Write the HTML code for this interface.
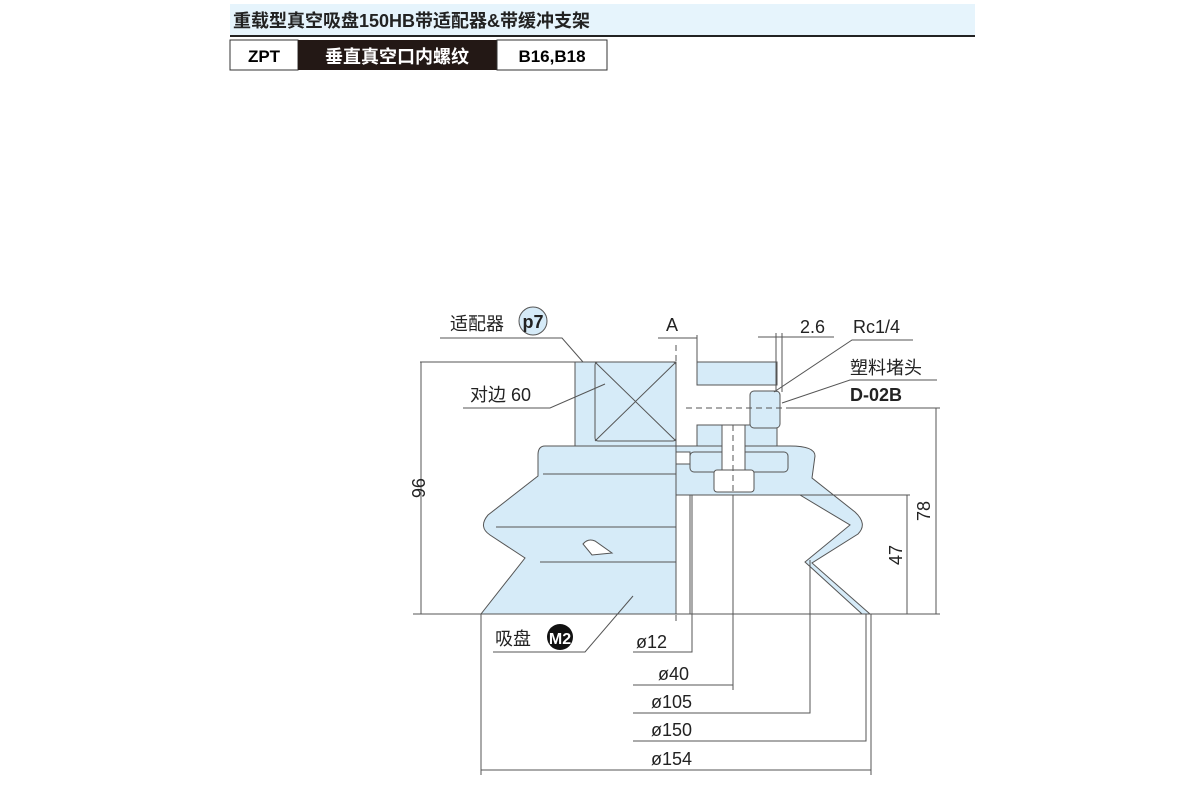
<!DOCTYPE html>
<html><head><meta charset="utf-8"><style>
body{margin:0;width:1200px;height:800px;background:#fff;overflow:hidden;font-family:"Liberation Sans","Noto Sans CJK SC",sans-serif}
</style></head><body>
<svg width="1200" height="800" viewBox="0 0 1200 800" xmlns="http://www.w3.org/2000/svg" font-family="Liberation Sans, Noto Sans CJK SC, sans-serif">
<rect x="230" y="4" width="745" height="31" fill="#e6f4fc"/>
<line x1="230" y1="36" x2="975" y2="36" stroke="#222" stroke-width="2"/>
<text x="233" y="27" font-size="18" font-weight="bold" fill="#222">重载型真空吸盘150HB带适配器&amp;带缓冲支架</text>
<rect x="230" y="40" width="68" height="30" fill="#fff" stroke="#333"/>
<text x="264" y="62" font-size="17" font-weight="bold" text-anchor="middle">ZPT</text>
<rect x="298" y="40" width="199" height="30" fill="#231815"/>
<text x="397" y="63" font-size="18" font-weight="bold" fill="#fff" text-anchor="middle">垂直真空口内螺纹</text>
<rect x="497" y="40" width="110" height="30" fill="#fff" stroke="#333"/>
<text x="552" y="62" font-size="17" font-weight="bold" text-anchor="middle">B16,B18</text>

<g stroke="#555" stroke-width="1" fill="#d6ebf8">
<rect x="575" y="362" width="101" height="84"/>
<rect x="595" y="362" width="81" height="79" rx="3"/>
<path d="M595 362 L676 441 M676 362 L595 441" fill="none"/>
<path d="M676 446 L545 446 Q538 446 538 455 L538 476 L488 515 Q478 527 490 535 L525 558 L481 614 L676 614 Z"/>
<path d="M543 474 H676 M496 527 H676 M540 562 H676" fill="none"/>
<path d="M583 544 Q588 538 595 541 L612 553 L592 555 Z" fill="#fff"/>
<rect x="697" y="362" width="80" height="23"/>
<rect x="697" y="425" width="80" height="21"/>
<rect x="750" y="391" width="30" height="37" rx="4"/>
<path d="M676 446 H790 Q815 446 815 456 L812 478 L855 512 Q868 524 858 534 L812 563 L870 614 L862 614 L805 562 L850 525 L800 495 L676 495 Z"/>
<rect x="690" y="452" width="98" height="20" rx="4"/>
<rect x="722" y="425" width="23" height="50" fill="#fff"/>
<rect x="714" y="470" width="40" height="22" rx="3" fill="#fff"/>
<rect x="676" y="452" width="14" height="12" fill="#fff"/>
</g>
<g stroke="#555" stroke-width="1" fill="none">
<line x1="676" y1="345" x2="676" y2="625" stroke-dasharray="6,4"/>
<line x1="686" y1="408" x2="790" y2="408" stroke-dasharray="6,4"/>
<line x1="733" y1="425" x2="733" y2="495" stroke-dasharray="6,4"/>
<line x1="733" y1="495" x2="733" y2="690"/>
<line x1="697" y1="335" x2="697" y2="362"/>
<line x1="658" y1="338" x2="697" y2="338"/>
<line x1="420" y1="362" x2="575" y2="362"/>
<line x1="421" y1="362" x2="421" y2="614"/>
<line x1="413" y1="614" x2="940" y2="614"/>
<line x1="676" y1="495" x2="910" y2="495"/>
<line x1="907" y1="495" x2="907" y2="614"/>
<line x1="790" y1="408" x2="940" y2="408"/>
<line x1="936" y1="408" x2="936" y2="614"/>
<line x1="758" y1="337" x2="834" y2="337"/>
<line x1="776" y1="333" x2="776" y2="392"/>
<line x1="782" y1="333" x2="782" y2="392"/>
<path d="M774 392 L852 340 H913"/>
<path d="M782 403 L850 380 H937"/>
<path d="M440 338 H562 L583 362"/>
<path d="M463 408 H550 L605 384"/>
<path d="M633 596 L585 652 H493"/>
<path d="M633 652 H692 V495"/>
<path d="M633 685 H733"/>
<path d="M633 713 H810 V560"/>
<path d="M633 741 H866 V614"/>
<path d="M481 770 H871"/>
<line x1="481" y1="614" x2="481" y2="775"/>
<line x1="871" y1="614" x2="871" y2="775"/>
<line x1="690" y1="495" x2="690" y2="614"/>
</g>
<g font-size="18" fill="#222">
<text x="450" y="330">适配器</text>
<circle cx="533" cy="321" r="14" fill="#d6ebf8" stroke="#555"/>
<text x="533" y="328" font-weight="bold" text-anchor="middle" font-size="18">p7</text>
<text x="470" y="401">对边 60</text>
<text x="672" y="331" text-anchor="middle">A</text>
<text x="800" y="333">2.6</text>
<text x="853" y="333">Rc1/4</text>
<text x="850" y="374">塑料堵头</text>
<text x="850" y="401" font-weight="bold">D-02B</text>
<text transform="translate(412,488) rotate(90)" text-anchor="middle">96</text>
<text transform="translate(930,511) rotate(-90)" text-anchor="middle">78</text>
<text transform="translate(902,555) rotate(-90)" text-anchor="middle">47</text>
<text x="495" y="645">吸盘</text>
<circle cx="560" cy="637" r="13" fill="#111"/>
<text x="560" y="644" fill="#fff" font-weight="bold" text-anchor="middle" font-size="16">M2</text>
<text x="636" y="648">ø12</text>
<text x="658" y="680">ø40</text>
<text x="651" y="708">ø105</text>
<text x="651" y="736">ø150</text>
<text x="651" y="765">ø154</text>
</g>
</svg>
</body></html>
